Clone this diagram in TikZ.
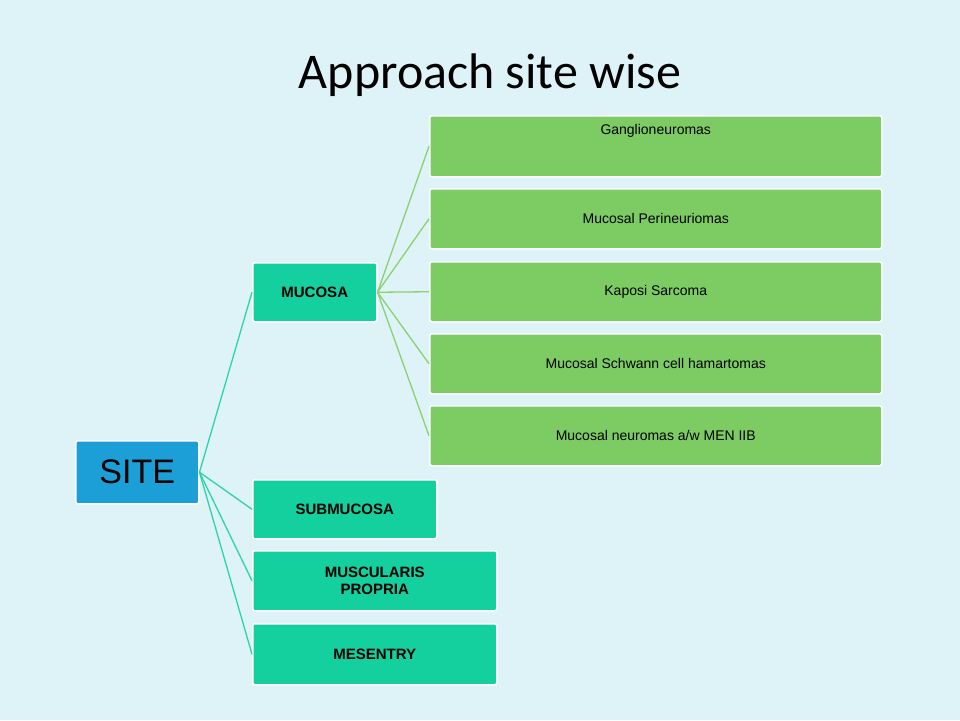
\documentclass[tikz,border=0pt]{standalone}
\usepackage{fontspec}
\setmainfont{Liberation Sans}
\newfontfamily\titlefont{Carlito}
\definecolor{bg}{HTML}{DDF3F8}
\definecolor{siteblue}{HTML}{1C9FD6}
\definecolor{teal}{HTML}{14CF9E}
\definecolor{lgreen}{HTML}{7CCB63}
\definecolor{lineteal}{HTML}{2FD3A8}
\definecolor{linegreen}{HTML}{8AD270}
\begin{document}
\begin{tikzpicture}[x=1pt,y=-1pt,
  box/.style={draw=white,line width=1.5pt,rounded corners=2pt,anchor=north west,inner sep=2pt,align=center},
  lvl1/.style={box,fill=teal,font=\bfseries\fontsize{15}{17}\selectfont},
  lvl2/.style={box,fill=lgreen,font=\fontsize{14}{16}\selectfont},
  tl/.style={lineteal,line width=1.3pt},
  gl/.style={linegreen,line width=1.3pt}]
\fill[bg] (0,0) rectangle (960,720);
\useasboundingbox (0,0) rectangle (960,720);
\node[font=\titlefont\fontsize{50}{56}\selectfont] (title) at (490,75) {Approach site wise};
\node[box,fill=siteblue,minimum width=123pt,minimum height=63pt,font=\fontsize{34}{38}\selectfont] (site) at (75,440) {SITE};
\node[lvl1,minimum width=124pt,minimum height=59pt] (muc) at (252,262) {MUCOSA};
\node[lvl1,minimum width=184pt,minimum height=59pt] (sub) at (252,479) {SUBMUCOSA};
\node[lvl1,minimum width=244pt,minimum height=60pt] (mus) at (252,550) {MUSCULARIS\\PROPRIA};
\node[lvl1,minimum width=244pt,minimum height=61pt] (mes) at (252,623) {MESENTRY};
\node[lvl2,minimum width=452pt,minimum height=61pt,text depth=34pt] (g1) at (429,115) {Ganglioneuromas};
\node[lvl2,minimum width=452pt,minimum height=60pt] (g2) at (429,188) {Mucosal Perineuriomas};
\node[lvl2,minimum width=452pt,minimum height=60pt] (g3) at (429,261) {Kaposi Sarcoma};
\node[lvl2,minimum width=452pt,minimum height=60pt] (g4) at (429,333) {Mucosal Schwann cell hamartomas};
\node[lvl2,minimum width=452pt,minimum height=60pt] (g5) at (429,405) {Mucosal neuromas a/w MEN IIB};
\foreach \n in {muc,sub,mus,mes}{\draw[tl] (site.east) -- (\n.west);}
\foreach \n in {g1,g2,g3,g4,g5}{\draw[gl] (muc.east) -- (\n.west);}
\end{tikzpicture}
\end{document}
